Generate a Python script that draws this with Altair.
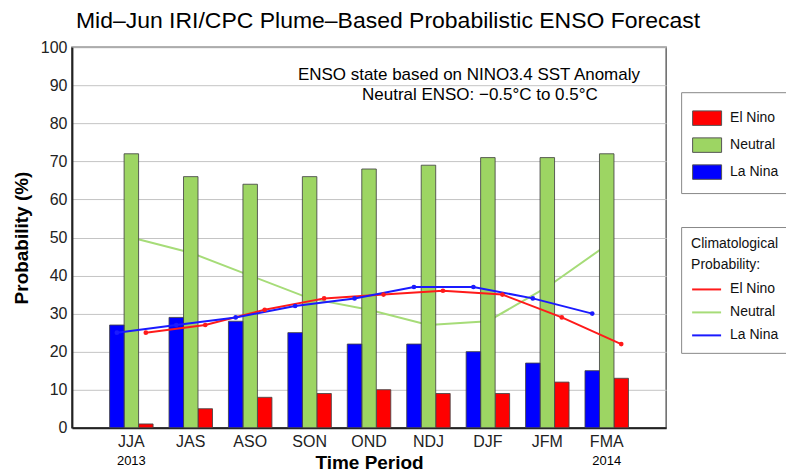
import altair as alt
import pandas as pd

periods = ["JJA", "JAS", "ASO", "SON", "OND", "NDJ", "DJF", "JFM", "FMA"]
series = ["El Nino", "Neutral", "La Nina"]
offset_order = ["La Nina", "Neutral", "El Nino"]

el_nino = [1, 5, 8, 9, 10, 9, 9, 12, 13]
neutral = [72, 66, 64, 66, 68, 69, 71, 71, 72]
la_nina = [27, 29, 28, 25, 22, 22, 20, 17, 15]

clim_el_nino = [25, 27, 31, 34, 35, 36, 35, 29, 22]
clim_neutral = [50, 46, 40, 34, 31, 27, 28, 37, 48]
clim_la_nina = [25, 27, 29, 32, 34, 37, 37, 34, 30]

year_periods = ["JJA", "FMA"]
year_texts = ["2013", "2014"]

title_text = "Mid\u2013Jun IRI/CPC Plume\u2013Based Probabilistic ENSO Forecast"
note1 = "ENSO state based on NINO3.4 SST Anomaly"
note2 = "Neutral ENSO: \u22120.5\u00b0C to 0.5\u00b0C"

bar_colors = ["#ff0000", "#9dd563", "#0000ff"]
line_colors = ["#1a1aff", "#a6dc78", "#ff1a1a"]  # in offset_order

FONT = "Liberation Sans"
W, H = 595, 381

bars_df = pd.DataFrame({
    "period": periods * 3,
    "series": ["El Nino"] * 9 + ["Neutral"] * 9 + ["La Nina"] * 9,
    "value": el_nino + neutral + la_nina,
})
clim_df = pd.DataFrame({
    "period": periods * 3,
    "series": ["El Nino"] * 9 + ["Neutral"] * 9 + ["La Nina"] * 9,
    "value": clim_el_nino + clim_neutral + clim_la_nina,
})
clim_df["clim"] = clim_df["series"]
years_df = pd.DataFrame({"period": year_periods, "year": year_texts})

xenc = alt.X(
    "period:N", sort=periods, title="Time Period",
    scale=alt.Scale(paddingInner=0, paddingOuter=0.5),
    axis=alt.Axis(labelAngle=0, labelFontSize=16, labelPadding=6, ticks=False, tickSize=0,
                  titleFontSize=19, titleFontWeight="bold", titleY=41, titleBaseline="alphabetic",
                  titleX=W / 2, grid=False),
)
xoff = alt.XOffset("series:N", sort=offset_order,
                   scale=alt.Scale(paddingInner=0, paddingOuter=0.55))
yenc = alt.Y(
    "value:Q", title="Probability (%)",
    scale=alt.Scale(domain=[0, 100], nice=False),
    axis=alt.Axis(values=list(range(0, 101, 10)), labelFontSize=16, labelPadding=5,
                  ticks=False, tickSize=0, titleFontSize=19, titleFontWeight="bold",
                  titleX=-44, titleY=H / 2, titleBaseline="alphabetic"),
)

fill_legend = alt.Legend(
    title=None, orient="none", legendX=610, legendY=45, padding=11,
    strokeColor="#888888", fillColor="white",
    symbolType="M-1,-0.5H1V0.5H-1Z", symbolSize=841,
    symbolStrokeColor="#555555", symbolStrokeWidth=1, symbolOpacity=1,
    labelFontSize=14, labelOffset=8, rowPadding=2,
)
color_legend = alt.Legend(
    title=["Climatological", "Probability:"], orient="none", legendX=610, legendY=180,
    padding=10, strokeColor="#888888", fillColor="white", values=series,
    titleFontSize=14, titleFontWeight="normal", titleLineHeight=21, titlePadding=2,
    symbolType="stroke", symbolSize=841, symbolStrokeWidth=2,
    labelFontSize=14, labelOffset=8, rowPadding=-1,
)

color_scale = alt.Scale(domain=offset_order, range=line_colors)

green_line = alt.Chart(clim_df).transform_filter(
    alt.datum.series == "Neutral"
).mark_line(strokeWidth=2).encode(
    x=xenc, xOffset=xoff, y=yenc,
    color=alt.Color("clim:N", scale=color_scale, legend=color_legend),
)

bars = alt.Chart(bars_df).mark_bar(stroke="#444444", strokeWidth=1, strokeOpacity=0.85).encode(
    x=xenc, xOffset=xoff, y=yenc,
    fill=alt.Fill("series:N", scale=alt.Scale(domain=series, range=bar_colors), legend=fill_legend),
)

other_lines = alt.Chart(clim_df).transform_filter(
    alt.datum.series != "Neutral"
).mark_line(strokeWidth=2).encode(
    x=xenc, xOffset=xoff, y=yenc,
    color=alt.Color("clim:N", scale=color_scale, legend=color_legend),
)

other_points = alt.Chart(clim_df).transform_filter(
    alt.datum.series != "Neutral"
).mark_circle(size=22, opacity=1).encode(
    x=xenc, xOffset=xoff, y=yenc,
    color=alt.Color("clim:N", scale=color_scale, legend=None),
)

years = alt.Chart(years_df).mark_text(fontSize=13, baseline="middle", font=FONT).encode(
    x=xenc, y=alt.value(H + 33), text="year:N",
)

title = alt.Chart(pd.DataFrame({"t": [title_text]})).mark_text(
    fontSize=23, baseline="alphabetic", align="center", font=FONT
).encode(x=alt.value(316.5), y=alt.value(-19.7), text="t:N")

n1 = alt.Chart(pd.DataFrame({"t": [note1]})).mark_text(
    fontSize=17, baseline="alphabetic", align="center", font=FONT
).encode(x=alt.value(397.5), y=alt.value(32.3), text="t:N")

n2 = alt.Chart(pd.DataFrame({"t": [note2]})).mark_text(
    fontSize=17, baseline="alphabetic", align="center", font=FONT
).encode(x=alt.value(408.5), y=alt.value(53), text="t:N")

chart = alt.layer(green_line, bars, other_lines, other_points, years, title, n1, n2).properties(
    width=W, height=H,
    padding={"left": 64, "top": 39, "right": 120, "bottom": 50},
    autosize=alt.AutoSizeParams(type="none"),
).resolve_scale(
    color="shared"
).configure(
    font=FONT,
).configure_view(
    stroke="#666666", strokeWidth=1.5,
).configure_axis(
    labelFont=FONT, titleFont=FONT, labelColor="#222222", titleColor="#000000",
    domainColor="#222222", domainWidth=2, gridColor="#c4c4c4", gridWidth=1,
).configure_axisX(
    grid=False,
).configure_axisY(
    grid=True,
).configure_legend(
    labelFont=FONT, titleFont=FONT, labelColor="#111111", titleColor="#111111",
)

chart.save("out.html", embed_options={"renderer": "svg", "actions": False})
